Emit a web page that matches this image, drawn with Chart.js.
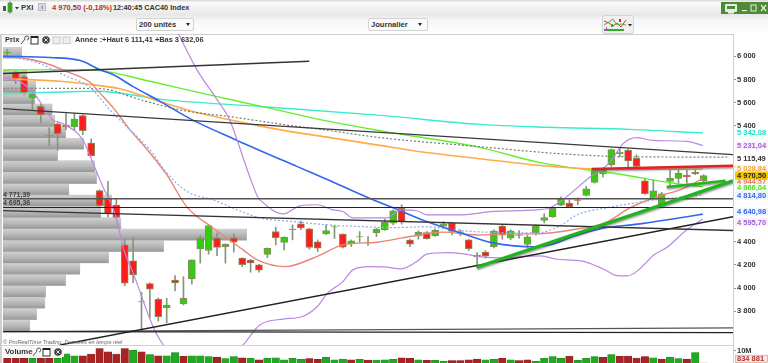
<!DOCTYPE html>
<html lang="fr"><head><meta charset="utf-8"><title>PXI CAC40 Index</title>
<script src="https://cdn.jsdelivr.net/npm/chart.js@4/dist/chart.umd.min.js"></script>
<style>
html,body{margin:0;padding:0;width:768px;height:363px;overflow:hidden;background:#fff;font-family:"Liberation Sans",Arial,sans-serif;color:#333}
#page{position:absolute;left:0;top:0;width:768px;height:363px;overflow:hidden;filter:blur(.35px)}
.abs{position:absolute;white-space:nowrap}
canvas{position:absolute;left:0}
#title{left:0;top:0;width:768px;height:14px;background:linear-gradient(#ddd 0,#ddd 1px,#fbfbfb 2px,#e9e9e9 100%)}
#bar2{left:0;top:14px;width:768px;height:20px;background:linear-gradient(#e6e6e6,#f6f6f6 30%,#fff)}
.sel{background:#fafafa;border:1px solid #d2d2d2;border-radius:2px;font:bold 7.6px "Liberation Sans";color:#333;height:11px;line-height:11px;padding-left:2px;box-sizing:content-box}
.arrow{position:absolute;width:0;height:0;border-left:2.5px solid transparent;border-right:2.5px solid transparent;border-top:3px solid #222}
</style></head><body><div id="page">
<div class="abs" id="title"></div>
<div class="abs" id="bar2"></div>
<div class="abs" style="left:0;top:34px;width:2px;height:329px;background:#cfcfcf"></div>
<svg class="abs" style="left:2px;top:1px" width="17" height="13"><rect x="6" y="2" width="4" height="9" fill="#37c21f" stroke="#3c7a2a" stroke-width=".6"/><line x1="8" y1="0" x2="8" y2="13" stroke="#3c7a2a" stroke-width=".7"/><rect x="1" y="5" width="3" height="5" fill="#555"/><path d="M13 6l4 0-2 2.5z" fill="#333"/></svg>
<div class="abs" style="left:21px;top:3px;font:bold 7.6px 'Liberation Sans';color:#333">PXI</div>
<div class="abs" style="left:38px;top:3px;width:8px;height:8px;background:#ddd;border:1px solid #bbb;box-sizing:border-box;font:bold 6px 'Liberation Sans';text-align:center;line-height:7px;color:#666">i</div>
<div class="abs" style="left:52px;top:3px;font:bold 7.5px 'Liberation Sans';color:#b5322a">4 970,50 (-0,18%)</div>
<div class="abs" style="left:113px;top:3px;font:bold 7.3px 'Liberation Sans';color:#333">12:40:45 CAC40 Index</div>
<div class="abs" style="left:721px;top:2px;width:47px;height:12px;background:#4f8a36"></div>
<svg class="abs" style="left:724px;top:3px" width="44" height="11"><rect x="1" y="1" width="12" height="8" rx="1" fill="#e8f0e4"/><rect x="3" y="3" width="8" height="3" fill="#4f8a36"/><rect x="4" y="9" width="6" height="1.6" fill="#e8f0e4"/><rect x="18" y="7" width="5" height="1.2" fill="#e8f0e4"/><rect x="27" y="2" width="5" height="6" fill="none" stroke="#e8f0e4"/><path d="M37 2l5 6M42 2l-5 6" stroke="#e8f0e4" stroke-width="1.2"/></svg>
<div class="abs sel" style="left:136px;top:18px;width:54px">200 unités<span class="arrow" style="left:49px;top:4px"></span></div>
<div class="abs sel" style="left:368px;top:18px;width:56px">Journalier<span class="arrow" style="left:49px;top:4px"></span></div>
<div class="abs" style="left:602px;top:15px;width:30px;height:17px;background:#efefef;border:1px solid #d6d6d6;border-radius:2px;box-sizing:content-box"></div>
<svg class="abs" style="left:603px;top:16px" width="30" height="16"><polyline points="1,5 6,7 10,10 14,7 18,11 23,4" fill="none" stroke="#d33" stroke-width="1"/><polyline points="1,9 6,6 10,3 14,9 18,8 23,9" fill="none" stroke="#6a4" stroke-width="1"/><rect x="8" y="8" width="2" height="3" fill="#2b2"/><rect x="16" y="3" width="2" height="3" fill="#d22"/><rect x="1" y="13" width="20" height="2" fill="#3a3"/><rect x="3" y="11" width="1" height="4" fill="#b4b"/><path d="M25 8l4 0-2 2.5z" fill="#222"/></svg>
<div class="abs" style="left:0;top:34px;width:733px;height:1px;background:#cfcfcf"></div>

<canvas id="price" width="768" height="311" style="top:34px;width:768px;height:311px"></canvas>
<canvas id="vol" width="768" height="18" style="top:346px;width:768px;height:18px"></canvas>

<div class="abs" style="left:3px;top:35px;width:70px;height:10px;background:rgba(245,245,245,.92)"></div>
<div class="abs" style="left:5px;top:35px;font:bold 7.6px 'Liberation Sans';color:#333">Prix</div>
<svg class="abs" style="left:20px;top:35px" width="52" height="10"><path d="M1 9L5 4M5 4a2 2 0 1 1 2 1" fill="none" stroke="#555"/><rect x="11" y="1.5" width="7" height="7.5" fill="#fff" stroke="#333"/><rect x="11" y="1" width="7" height="2" fill="#222"/><circle cx="26" cy="5" r="3.8" fill="#444"/><path d="M24.3 3.3l3.4 3.4M27.7 3.3l-3.4 3.4" stroke="#ddd"/><rect x="33" y="2" width="7" height="6.5" fill="#eee" stroke="#ccc"/><rect x="43" y="2" width="7" height="6.5" fill="#eee" stroke="#ccc"/></svg>
<div class="abs" style="left:75px;top:35px;font:bold 7.4px 'Liberation Sans';color:#333">Année :+Haut 6 111,41 +Bas 3 632,06</div>
<div class="abs" style="left:3px;top:191px;font:bold 7px 'Liberation Sans';color:#444">4 771,39</div>
<div class="abs" style="left:3px;top:199px;font:bold 7px 'Liberation Sans';color:#444">4 695,36</div>
<div class="abs" style="left:3px;top:339px;font:italic 5.6px 'Liberation Sans';color:#666">© ProRealTime Trading, Données en temps réel</div>
<div class="abs" style="left:0;top:345px;width:733px;height:1px;background:#cfcfcf"></div>
<div class="abs" style="left:733px;top:34px;width:1px;height:329px;background:#cfcfcf"></div>
<div class="abs" style="left:3px;top:347px;width:61px;height:10px;background:rgba(247,247,247,.95)"></div>
<div class="abs" style="left:5px;top:347px;font:bold 7.8px 'Liberation Sans';color:#333">Volume</div>
<svg class="abs" style="left:32px;top:347px" width="32" height="10"><path d="M1 9L5 4M5 4a2 2 0 1 1 2 1" fill="none" stroke="#555"/><rect x="11" y="1.5" width="7" height="7.5" fill="#fff" stroke="#333"/><rect x="11" y="1" width="7" height="2" fill="#222"/><circle cx="26" cy="5" r="3.8" fill="#444"/><path d="M24.3 3.3l3.4 3.4M27.7 3.3l-3.4 3.4" stroke="#ddd"/></svg>
</div>
<script>
/* ---- candles ---- */
const opens =[6032,5857,5822,5643,5568,5310,5416,5406,5390,5488,5252,4842,4770,4716,4373,4235,3880,4039,3904,3831,4068,3863,4079,4338,4324,4431,4358,4433,4258,4241,4200,4291,4488,4393,4505,4554,4511,4399,4468,4527,4465,4382,4441,4389,4479,4503,4560,4690,4414,4451,4479,4453,4535,4560,4481,4416,4284,4310,4358,4535,4431,4455,4376,4479,4583,4615,4716,4733,4762,4799,4911,4986,5062,5159,5188,5119,4926,4768,4710,4920,4946,4975,4998,4926];
const highs =[6058,5868,5833,5698,5583,5384,5427,5505,5505,5494,5286,4848,4920,4770,4416,4436,3964,4045,3915,3912,4108,4099,4243,4453,4546,4474,4382,4468,4261,4248,4206,4347,4526,4442,4546,4578,4516,4416,4546,4537,4468,4416,4488,4445,4517,4595,4675,4719,4422,4494,4488,4509,4574,4566,4503,4422,4306,4324,4503,4546,4503,4497,4459,4546,4641,4699,4788,4762,4779,4877,5027,5027,5200,5209,5200,5151,4949,4935,4825,5015,5021,5021,5027,4978];
const lows  =[6006,5764,5669,5540,5427,5228,5188,5367,5358,5323,5138,4701,4615,4598,4021,4047,3632,3742,3716,3699,3975,3854,4033,4215,4293,4280,4215,4310,4185,4137,4137,4263,4373,4330,4416,4503,4336,4315,4464,4427,4347,4358,4396,4367,4445,4498,4546,4552,4358,4422,4422,4445,4526,4459,4451,4324,4180,4258,4347,4422,4416,4431,4344,4459,4563,4609,4710,4695,4719,4794,4906,4958,5050,5131,5036,5041,4808,4762,4699,4877,4906,4906,4978,4915];
const closes=[6036,5793,5684,5675,5496,5315,5332,5393,5459,5358,5142,4710,4641,4609,4042,4114,3883,3990,3753,3854,4045,3912,4243,4431,4540,4350,4379,4396,4203,4217,4154,4344,4436,4440,4509,4520,4350,4344,4497,4531,4353,4408,4445,4393,4509,4569,4667,4574,4379,4483,4427,4500,4554,4488,4485,4341,4269,4275,4494,4457,4494,4459,4442,4537,4609,4687,4768,4701,4756,4857,5021,5021,5194,5174,5096,5050,4814,4840,4814,4949,4992,4958,4984,4970.5];

/* ---- volume, millions ---- */
const volumes=[4.2,4.3,4.2,4.2,4.3,4.2,4.2,7.7,6.2,6.2,7.5,11.5,9.2,7.5,11.5,10.2,9.2,7.0,6.2,6.2,8.5,5.7,6.2,6.2,5.5,5.2,4.0,5.5,4.7,4.2,3.2,4.2,4.7,3.2,4.2,3.5,4.0,3.5,5.0,3.2,3.7,3.2,3.5,3.0,3.0,3.2,3.5,4.7,4.2,3.2,2.7,2.7,2.0,2.5,2.5,3.2,3.7,3.2,3.5,4.2,3.2,2.5,3.2,2.0,4.2,5.5,4.2,6.0,2.7,4.2,5.5,5.0,7.0,5.7,6.0,4.5,5.5,4.7,3.7,5.0,4.0,3.7,8.5,0.834881];
const volumeUp=[0,0,0,1,0,0,1,1,1,0,0,0,0,0,0,1,0,1,0,1,1,0,1,1,1,0,1,1,0,1,0,1,1,1,1,1,0,0,1,1,1,0,1,0,1,1,1,0,0,1,0,1,1,0,0,0,0,1,1,0,1,0,0,1,1,1,1,0,1,1,1,0,1,0,0,0,0,1,0,1,1,0,1];

/* ---- volume-at-price profile ---- */
const profilePrices=[3676,3774,3873,3970,4069,4166,4265,4363,4461,4559,4657,4755,4853,4951,5050,5147,5246,5343,5442,5540,5638,5736,5834,6030];
const profileSizes =[27,33.7,42,42.7,62.7,77,105.7,160.7,243.7,118,98,108.7,66,93.7,92,54.7,81,62.7,52,49.3,32,32.7,23.7,18.7];

/* ---- indicator curves (bar position, price) ---- */
const cyanX=[-0.5,10.7,18.6,30.5,44.9,56.3,64.3,74.2,82.9];
const cyanY=[5675,5698,5626,5565,5488,5412,5387,5369,5338];
const limeX=[-0.5,6.3,11,17,24.5,30.95,37.3,44.9,56.3,63.5,73.4,79,82.9];
const limeY=[5881,5885,5876,5784,5660,5557,5453,5352,5214,5082,4978,4909,4874];
const orangeX=[-0.5,6.3,11,13.4,18.6,22.6,26.5,30.5,34.5,38.5,44.4,48.4,56.3,65.3,69.6,82.9];
const orangeY=[5807,5784,5747,5720,5600,5514,5453,5393,5341,5298,5231,5185,5116,5047,5030,5025];
const dashX=[-0.5,11,15.8,20.9,26.5,34.5,38.5,44.4,56.3,65.9,74.2,85.8];
const dashY=[5724,5721,5626,5533,5479,5395,5358,5298,5220,5159,5133,5130];
const blueX=[-0.5,5.1,8.7,11,12.6,15,18.2,22,27.4,34.5,38.2,43.6,46,50,54,57.9,63.1,64.7,67.4,70.6,75.4,81,82.9];
const blueY=[6000,5989,5963,5885,5842,5738,5611,5453,5274,5050,4935,4762,4693,4574,4477,4390,4356,4373,4445,4511,4554,4615,4638];
const blueDotX=[-0.5,1.5,3.5,7.1,9.9,12.2,14.6,17,19,21.4,24.5,30.1,34.1,38.1,42,46,50,54,57.9,63.1,65.9,67.9,71.5,77.4,82.9];
const blueDotY=[6000,5980,5946,5827,5730,5540,5367,5194,4995,4834,4762,4606,4574,4546,4531,4522,4528,4497,4480,4477,4537,4632,4693,4762,4805];
const salmonX=[-0.5,1.5,4.3,7.1,9.9,11,12.8,14.6,16.7,19,21.4,24.5,28.1,29.8,33.1,36.9,40,44.1,48,51.9,56,59.9,63.1,67.4,71.5,74.2,77.8,80.2,82.9];
const salmonY=[6000,5989,5946,5868,5773,5686,5540,5367,5194,4978,4701,4520,4330,4243,4185,4272,4373,4396,4445,4483,4458,4468,4468,4503,4572,4692,4796,4848,4944];
const lowBandX=[-0.5,1.5,3.1,4.3,5.4,6.6,9,9.9,11.4,12.8,13.9,15,17.4,18.6,23.5,28.1,30.1,32.9,35.1,36.9,38.2,40,41.2,43.2,44.9,46.9,48.8,50,52.4,54.4,56.5,58.8,63.6,65.5,68.4,71.1,72.7,73.9,75,77.1,78.6,81,82.9];
const lowBandY=[5816,5781,5686,5565,5453,5419,5280,5133,4874,4650,4330,4131,3664,3509,3200,3509,3682,3733,3753,3837,3958,4056,4157,4185,4183,4166,4229,4293,4306,4295,4269,4261,4278,4249,4235,4163,4108,4105,4142,4287,4350,4503,4595];
const upBandX=[19,22.6,25,26.5,27.5,28.9,29.9,30.1,32.9,34.9,36.9,38.8,40,41.2,45.3,46.8,48.8,50,54,57.9,63.1,64.7,66.2,69.5,71.8,73.4,75,76.9,81,82.9];
const upBandY=[6400,5885,5626,5453,5254,4961,4779,4762,4640,4710,4719,4675,4661,4606,4606,4675,4667,4632,4632,4661,4675,4693,4762,4960,5082,5246,5298,5274,5266,5231];

/* ---- trend lines drawn by hand on the original ---- */
const xLeft=-0.51, xRight=86.5;
const trendA=[[xLeft,5851],[36,5957]];
const trendB=[[xLeft,5548],[xRight,5151]];
const level1=[[xLeft,4771.39],[xRight,4771.39]];
const level2=[[xLeft,4695.36],[xRight,4695.36]];
const trendC=[[xLeft,4669],[xRight,4497]];
const trendD=[[6.3,3509],[xRight,4615]];
const floorA=[[xLeft,3625],[xRight,3615]];
const floorB=[[xLeft,3625],[xRight,3657]];
const thickGreen1=[[55.95,4180],[xRight,4926]];
const thickGreen2=[[78.6,4872],[85.6,4926]];
const thickRed=[[69.65,5027],[xRight,5056]];

/* ---- axes and side labels ---- */
const priceTicks=[6000,5800,5600,5400,4400,4200,4000,3800];
const priceMin=3509, priceMax=6192;
const sideLabels=[
 ["5 342,08",5342,"#22ddc0","#f4fffc",0],
 ["5 231,04",5231,"#a060d0","#f8f2fd",0],
 ["5 115,49",5115.49,"#333","#ffffff",0],
 ["5 028,84",5028.84,"#f0a040","#fff6ea",0],
 ["4 944,57",4944.57,"#e07868","#fdeeea",3],
 ["4 970,50",4970.5,"#222","#f2c600",0],
 ["4 866,04",4866.04,"#55dd22","#f4fdf0",0],
 ["4 814,80",4814.8,"#3366ee","#f0f4fe",2],
 ["4 640,98",4640.98,"#3366ee","#f0f4fe",-2],
 ["4 595,70",4595.7,"#a060d0","#f8f2fd",3]
];
const xy=(xs,ys)=>xs.map((x,i)=>({x,y:ys[i]}));
const seg=a=>a.map(p=>({x:p[0],y:p[1]}));
const idx=opens.map((_,i)=>i);
const fitAxis=a=>{a.width=35;a.paddingTop=0;a.paddingBottom=0;};

function curve(data,color,order,extra){
  return Object.assign({type:'line',data,borderColor:color,borderWidth:1,pointRadius:0,tension:0,cubicInterpolationMode:'monotone',order,xAxisID:'x',yAxisID:'y'},extra||{});
}
function profileFill(ctx){
  const c=ctx.chart; if(!c.chartArea||ctx.parsed==null||!ctx.raw) return '#bbb';
  const py=c.scales.y.getPixelForValue(ctx.raw.y);
  const g=c.ctx.createLinearGradient(0,py-5.7,0,py+5.7);
  g.addColorStop(0,'#d0d0d0');g.addColorStop(.5,'#b8b8b8');g.addColorStop(1,'#979797');
  return g;
}
const glow={id:'glow',
  beforeDatasetDraw(c,a){if(c.data.datasets[a.index].glow){const x=c.ctx;x.save();x.shadowColor='rgba(60,60,60,.55)';x.shadowBlur=2;x.shadowOffsetY=1.5;x.shadowOffsetX=.5;}},
  afterDatasetDraw(c,a){if(c.data.datasets[a.index].glow){c.ctx.restore();}}
};
const sideText={id:'sideText',afterDraw(c){
  const x=c.ctx,s=c.scales.y;x.save();x.font='bold 7.5px "Liberation Sans"';x.textBaseline='middle';x.textAlign='left';
  sideLabels.forEach(l=>{const p=s.getPixelForValue(l[1])+l[4];x.fillStyle=l[3];x.fillRect(735,p-4,33,8);x.fillStyle=l[2];x.fillText(l[0],737,p+.5);});
  x.restore();
}};
const up=closes.map((v,i)=>v>=opens[i]);

new Chart(document.getElementById('price'),{
  data:{datasets:[
    {type:'bar',label:'Profil',indexAxis:'y',xAxisID:'xp',yAxisID:'y',grouped:false,order:30,
      data:profilePrices.map((p,i)=>({x:profileSizes[i],y:p})),barThickness:11.4,backgroundColor:profileFill,borderColor:'#c4c4c4',borderWidth:.5},
    {type:'bar',label:'Mèches',xAxisID:'x',yAxisID:'y',grouped:false,order:20,
      data:idx.map(i=>({x:i,y:[lows[i],highs[i]]})),barThickness:1,backgroundColor:'#84977c',borderWidth:0},
    {type:'bar',label:'Corps',xAxisID:'x',yAxisID:'y',grouped:false,order:19,
      data:idx.map(i=>({x:i,y:[opens[i],closes[i]]})),barThickness:7,
      backgroundColor:up.map(u=>u?'#33cc11':'#ff1c1c'),borderColor:'#8a8a5e',borderWidth:1,borderSkipped:false},
    curve(xy(cyanX,cyanY),'#3aeccc',9,{borderWidth:1.4}),
    curve(xy(limeX,limeY),'#66ee2e',8,{borderWidth:1.4}),
    curve(xy(orangeX,orangeY),'#ffab4a',7,{borderWidth:1.6}),
    curve(xy(dashX,dashY),'#7a7a7a',6,{borderDash:[2,2],borderWidth:1.2}),
    curve(xy(blueX,blueY),'#3366ee',5,{borderWidth:1.6}),
    curve(xy(blueDotX,blueDotY),'#88aaf0',5,{borderDash:[2,2],borderWidth:1.2}),
    curve(xy(salmonX,salmonY),'#ea8576',5,{borderWidth:1.4}),
    curve(xy(lowBandX,lowBandY),'#bb88e0',4,{borderWidth:1.2}),
    curve(xy(upBandX,upBandY),'#bb88e0',4,{borderWidth:1.2}),
    curve(seg(trendA),'#333',3,{cubicInterpolationMode:'default',borderWidth:1.4}),
    curve(seg(trendB),'#3a3a3a',3,{cubicInterpolationMode:'default',borderWidth:1.4}),
    curve(seg(level1),'#555',3,{cubicInterpolationMode:'default',borderWidth:1.5}),
    curve(seg(level2),'#222',3,{cubicInterpolationMode:'default',borderWidth:1.2}),
    curve(seg(trendC),'#333',3,{cubicInterpolationMode:'default',borderWidth:1.3}),
    curve(seg(trendD),'#222',3,{cubicInterpolationMode:'default',borderWidth:1.4}),
    curve(seg(floorA),'#222',3,{cubicInterpolationMode:'default',borderWidth:1.3}),
    curve(seg(floorB),'#555',3,{cubicInterpolationMode:'default',borderWidth:1.3}),
    curve(seg(thickGreen1),'#1fb51f',1,{cubicInterpolationMode:'default',borderWidth:3.2,glow:true}),
    curve(seg(thickGreen2),'#1fb51f',1,{cubicInterpolationMode:'default',borderWidth:2.6,glow:true}),
    curve(seg(thickRed),'#e42020',1,{cubicInterpolationMode:'default',borderWidth:2.5,glow:true})
  ]},
  options:{responsive:false,animation:false,layout:{padding:{left:3,right:0,top:0,bottom:0}},
    plugins:{legend:{display:false},tooltip:{enabled:false}},events:[],
    scales:{
      x:{type:'linear',min:xLeft,max:xRight,display:false,offset:false},
      xp:{type:'linear',min:0,max:730,display:false,offset:false},
      y:{type:'linear',position:'right',min:priceMin,max:priceMax,offset:false,
        afterBuildTicks(a){a.ticks=priceTicks.map(v=>({value:v}));},
        afterFit:fitAxis,
        border:{display:false},
        grid:{drawOnChartArea:false,tickLength:3,color:'#999',tickWidth:1,offset:false},
        ticks:{padding:1,autoSkip:false,color:'#333',font:{family:'"Liberation Sans"',size:7.5,weight:'bold'},
          callback:v=>String(v).replace(/(\d)(\d{3})$/,'$1 $2')}}
    }},
  plugins:[glow,sideText]
});

const volText={id:'volText',afterDraw(c){const x=c.ctx,p=c.scales.y.getPixelForValue(volumes[volumes.length-1]);x.save();
  x.fillStyle='#fbe9e6';x.fillRect(735,p-8,33,8);x.strokeStyle='#e2b5ae';x.strokeRect(735.5,p-7.5,32,7);
  x.fillStyle='#b5322a';x.font='bold 7.5px "Liberation Sans"';x.textBaseline='middle';x.fillText('834 881',737,p-3.5);x.restore();}};
new Chart(document.getElementById('vol'),{
  type:'bar',
  data:{datasets:[{label:'Volume',data:idx.map(i=>({x:i,y:volumes[i]})),barThickness:7.4,grouped:false,
    backgroundColor:idx.map(i=>i===83?'#dda48f':(volumeUp[i]?'#23a823':'#a82424')),borderColor:idx.map(i=>i===83?'#dda48f':(volumeUp[i]?'#1a8a1a':'#8a1c1c')),borderWidth:.5}]},
  options:{responsive:false,animation:false,layout:{padding:{left:3,right:0,top:0,bottom:0}},
    plugins:{legend:{display:false},tooltip:{enabled:false}},events:[],
    scales:{
      x:{type:'linear',min:xLeft,max:xRight,display:false,offset:false},
      y:{type:'linear',position:'right',min:0,max:13.5,
        afterBuildTicks(a){a.ticks=[{value:10}];},
        afterFit:fitAxis,
        border:{display:false},
        grid:{drawOnChartArea:false,tickLength:3,color:'#999'},
        ticks:{padding:1,color:'#333',font:{family:'"Liberation Sans"',size:7.5,weight:'bold'},callback:v=>v+'M'}}
    }},
  plugins:[volText]
});
</script></body></html>
